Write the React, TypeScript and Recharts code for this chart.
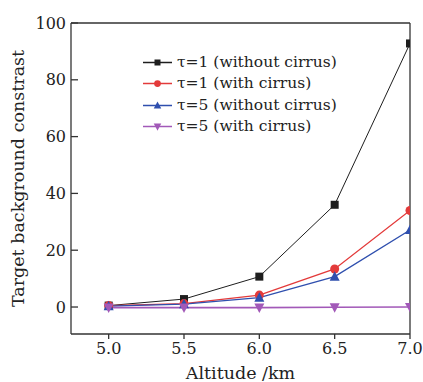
import React from "react";
import {
  LineChart,
  Line,
  XAxis,
  YAxis,
  Legend,
  ReferenceLine,
} from "recharts";

const altitudes = [5.0, 5.5, 6.0, 6.5, 7.0];
const tau1NoCirrus = [0.5, 2.8, 10.7, 36.0, 92.8];
const tau1Cirrus = [0.5, 1.2, 4.2, 13.4, 34.0];
const tau5NoCirrus = [0.3, 1.0, 3.3, 10.7, 27.1];
const tau5Cirrus = [-0.2, -0.2, -0.2, -0.1, 0.0];

const xTicks = [5.0, 5.5, 6.0, 6.5, 7.0];
const yTicks = [0, 20, 40, 60, 80, 100];

const FONT = "DejaVu Serif, serif";
const AXIS = "#333333";

const series = [
  { key: "a", name: "τ=1 (without cirrus)", values: tau1NoCirrus, color: "#1e1e1e", shape: "square", width: 1 },
  { key: "b", name: "τ=1 (with cirrus)", values: tau1Cirrus, color: "#e33a3a", shape: "circle", width: 1.3 },
  { key: "c", name: "τ=5 (without cirrus)", values: tau5NoCirrus, color: "#2f4fae", shape: "up", width: 1.3 },
  { key: "d", name: "τ=5 (with cirrus)", values: tau5Cirrus, color: "#a259b8", shape: "down", width: 1.6 },
];

const data = altitudes.map((alt, i) => {
  const row: Record<string, number> = { alt };
  series.forEach((s) => {
    row[s.key] = s.values[i];
  });
  return row;
});

function Marker({ cx, cy, shape, color, s = 1 }: { cx: number; cy: number; shape: string; color: string; s?: number }) {
  if (cx == null || cy == null) return null;
  if (shape === "square") {
    return <rect x={cx - 4 * s} y={cy - 4 * s} width={8 * s} height={8 * s} fill={color} />;
  }
  if (shape === "circle") {
    return <circle cx={cx} cy={cy} r={4.5 * s} fill={color} />;
  }
  if (shape === "up") {
    return (
      <polygon
        points={`${cx},${cy - 5.5 * s} ${cx - 5 * s},${cy + 4 * s} ${cx + 5 * s},${cy + 4 * s}`}
        fill={color}
      />
    );
  }
  return (
    <polygon
      points={`${cx},${cy + 5.5 * s} ${cx - 5 * s},${cy - 4 * s} ${cx + 5 * s},${cy - 4 * s}`}
      fill={color}
    />
  );
}

function LegendBox() {
  return (
    <div style={{ fontFamily: FONT, fontSize: 15.5, color: "#222" }}>
      {series.map((s) => (
        <div key={s.key} style={{ display: "flex", alignItems: "center", height: 21.3 }}>
          <svg width={34} height={21} style={{ display: "block" }}>
            <line x1={0} x2={29} y1={10.5} y2={10.5} stroke={s.color} strokeWidth={1.5} />
            <Marker cx={14.5} cy={10.5} shape={s.shape} color={s.color} s={0.75} />
          </svg>
          <span style={{ whiteSpace: "nowrap", lineHeight: "21px" }}>{s.name}</span>
        </div>
      ))}
    </div>
  );
}

export default function App() {
  return (
    <div style={{ position: "absolute", left: 0, top: 0, background: "#fff" }}>
      <LineChart
        width={423}
        height={382}
        data={data}
        margin={{ top: 23, right: 13, left: 0, bottom: 0 }}
      >
        <XAxis
          dataKey="alt"
          type="number"
          domain={[4.75, 7.0]}
          ticks={xTicks}
          allowDataOverflow
          tickFormatter={(v: number) => v.toFixed(1)}
          height={48}
          stroke={AXIS}
          strokeWidth={1.3}
          tickSize={5}
          tickMargin={4}
          tick={{ fontFamily: FONT, fontSize: 16, fill: "#222" }}
          label={{
            value: "Altitude /km",
            position: "insideBottom",
            offset: 3,
            style: { fontFamily: FONT, fontSize: 17.5, fill: "#222" },
          }}
        />
        <YAxis
          type="number"
          domain={[-9.5, 100]}
          ticks={yTicks}
          allowDataOverflow
          width={71}
          stroke={AXIS}
          strokeWidth={1.3}
          tickSize={-7}
          tickMargin={12}
          tick={{ fontFamily: FONT, fontSize: 16, fill: "#222" }}
          label={{
            value: "Target background constrast",
            angle: -90,
            position: "insideLeft",
            offset: 18,
            style: { fontFamily: FONT, fontSize: 17.5, fill: "#222", textAnchor: "middle" },
          }}
        />
        <ReferenceLine y={100} stroke={AXIS} strokeWidth={1.3} />
        <ReferenceLine x={7.0} stroke={AXIS} strokeWidth={1.3} />
        <Legend
          verticalAlign="top"
          align="left"
          content={() => <LegendBox />}
          wrapperStyle={{ left: 143, top: 52, width: 270, height: 0, overflow: "visible" }}
        />
        {series.map((s) => (
          <Line
            key={s.key}
            dataKey={s.key}
            name={s.name}
            stroke={s.color}
            strokeWidth={s.width}
            isAnimationActive={false}
            dot={(p: any) => (
              <Marker key={`${s.key}-${p.index}`} cx={p.cx} cy={p.cy} shape={s.shape} color={s.color} />
            )}
            activeDot={false}
          />
        ))}
      </LineChart>
    </div>
  );
}
